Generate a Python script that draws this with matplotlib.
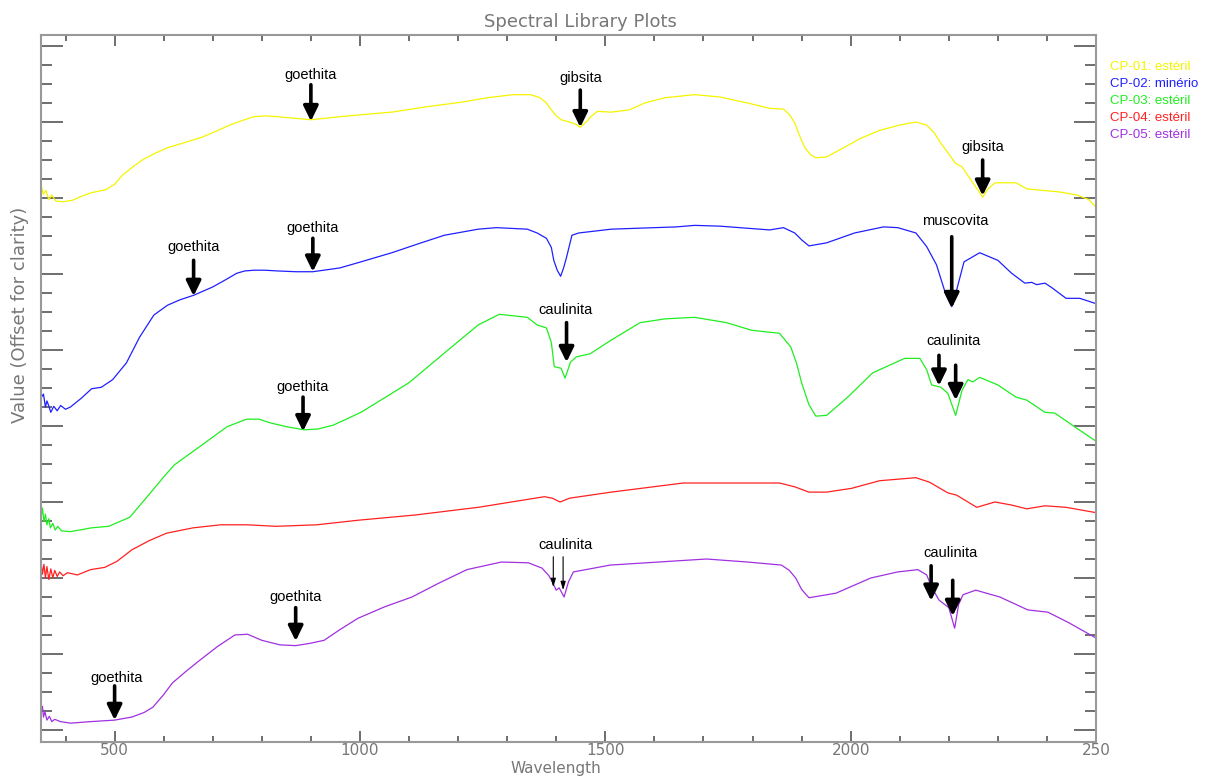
import matplotlib
matplotlib.use("Agg")
import matplotlib.pyplot as plt
from matplotlib.ticker import MultipleLocator

# spectra (wavelength in nm, value in offset units)
cp01_wl = [350, 355, 360, 366, 372, 380, 394, 414, 435, 453, 482, 500, 516, 537, 559, 583, 607, 643,
           678, 707, 735, 760, 784, 808, 833, 866, 900, 930, 959, 1010, 1065, 1135, 1206, 1260, 1312,
           1347, 1367, 1380, 1390, 1400, 1410, 1427, 1440, 1449, 1461, 1472, 1484, 1512, 1549, 1580,
           1622, 1682, 1733, 1790, 1835, 1863, 1875, 1886, 1896, 1906, 1918, 1929, 1951, 1985, 2022,
           2059, 2100, 2133, 2155, 2170, 2184, 2200, 2213, 2227, 2249, 2260, 2269, 2280, 2294, 2314,
           2337, 2359, 2425, 2461, 2485, 2500]
cp01_v = [7.17, 7.05, 7.10, 6.98, 7.04, 6.96, 6.95, 6.97, 7.03, 7.07, 7.11, 7.18, 7.30, 7.41, 7.51,
          7.59, 7.66, 7.73, 7.80, 7.88, 7.96, 8.02, 8.07, 8.08, 8.07, 8.05, 8.03, 8.05, 8.07, 8.10,
          8.13, 8.20, 8.26, 8.32, 8.36, 8.36, 8.32, 8.25, 8.16, 8.08, 8.03, 8.00, 7.97, 7.93, 8.00,
          8.08, 8.14, 8.13, 8.16, 8.25, 8.32, 8.36, 8.33, 8.25, 8.18, 8.17, 8.10, 7.99, 7.82, 7.67,
          7.57, 7.53, 7.54, 7.66, 7.79, 7.89, 7.96, 8.00, 7.96, 7.86, 7.72, 7.58, 7.46, 7.41, 7.20,
          7.10, 7.01, 7.12, 7.20, 7.20, 7.20, 7.12, 7.08, 7.04, 6.98, 6.88]

cp02_wl = [350, 351, 355, 359, 362, 365, 370, 376, 383, 390, 400, 410, 433, 453, 473, 496, 524, 551,
           580, 608, 633, 661, 700, 725, 749, 765, 784, 806, 833, 870, 904, 959, 1002, 1065, 1120,
           1172, 1241, 1278, 1341, 1361, 1380, 1390, 1395, 1402, 1409, 1415, 1421, 1432, 1446, 1512,
           1645, 1682, 1733, 1835, 1863, 1886, 1900, 1915, 1951, 2008, 2067, 2096, 2133, 2155, 2175,
           2193, 2206, 2216, 2231, 2263, 2300, 2328, 2355, 2369, 2379, 2396, 2410, 2439, 2467, 2500]
cp02_v = [4.61, 4.38, 4.42, 4.25, 4.33, 4.28, 4.18, 4.26, 4.20, 4.27, 4.22, 4.25, 4.37, 4.49, 4.51,
          4.61, 4.83, 5.17, 5.46, 5.59, 5.66, 5.72, 5.83, 5.92, 6.01, 6.04, 6.05, 6.05, 6.04, 6.03,
          6.03, 6.08, 6.16, 6.28, 6.40, 6.51, 6.59, 6.61, 6.59, 6.54, 6.47, 6.35, 6.18, 6.05, 5.97,
          6.08, 6.22, 6.51, 6.54, 6.59, 6.62, 6.64, 6.63, 6.58, 6.61, 6.54, 6.45, 6.37, 6.41, 6.54,
          6.62, 6.61, 6.54, 6.36, 6.12, 5.75, 5.57, 5.79, 6.16, 6.28, 6.18, 6.01, 5.88, 5.89, 5.86,
          5.88, 5.82, 5.68, 5.68, 5.61]

cp03_wl = [350, 353, 356, 359, 362, 366, 369, 374, 379, 384, 392, 410, 453, 488, 531, 573, 600, 622,
           650, 678, 729, 769, 794, 818, 851, 886, 914, 945, 969, 1002, 1050, 1100, 1172, 1241, 1284,
           1341, 1361, 1380, 1390, 1396, 1410, 1418, 1429, 1441, 1469, 1512, 1571, 1622, 1682, 1747,
           1798, 1855, 1878, 1890, 1900, 1915, 1929, 1951, 1994, 2045, 2110, 2141, 2155, 2165, 2184,
           2198, 2214, 2227, 2239, 2249, 2263, 2300, 2337, 2359, 2396, 2416, 2461, 2500]
cp03_v = [2.78, 2.92, 2.74, 2.84, 2.70, 2.78, 2.66, 2.72, 2.63, 2.68, 2.62, 2.61, 2.66, 2.68, 2.80,
          3.12, 3.33, 3.49, 3.62, 3.75, 3.99, 4.09, 4.09, 4.04, 3.99, 3.95, 3.96, 4.01, 4.08, 4.18,
          4.37, 4.57, 4.96, 5.33, 5.47, 5.43, 5.33, 5.29, 5.10, 4.78, 4.76, 4.63, 4.84, 4.91, 4.95,
          5.13, 5.36, 5.41, 5.43, 5.36, 5.26, 5.22, 5.04, 4.82, 4.57, 4.28, 4.13, 4.14, 4.38, 4.70,
          4.89, 4.89, 4.74, 4.54, 4.51, 4.43, 4.14, 4.47, 4.61, 4.58, 4.64, 4.54, 4.38, 4.34, 4.18,
          4.17, 3.97, 3.80]

cp04_wl = [350, 353, 356, 359, 362, 366, 370, 374, 378, 383, 388, 395, 404, 424, 451, 480, 505, 535,
           570, 606, 660, 716, 770, 829, 912, 996, 1114, 1241, 1376, 1392, 1408, 1427, 1512, 1659,
           1733, 1855, 1886, 1915, 1951, 2002, 2059, 2133, 2161, 2198, 2216, 2239, 2257, 2294, 2328,
           2359, 2396, 2439, 2500]
cp04_v = [2.21, 2.05, 2.18, 2.00, 2.15, 1.98, 2.12, 2.00, 2.10, 2.02, 2.08, 2.03, 2.07, 2.04, 2.11,
          2.14, 2.22, 2.37, 2.49, 2.59, 2.66, 2.70, 2.70, 2.68, 2.70, 2.76, 2.83, 2.93, 3.07, 3.05,
          3.00, 3.05, 3.13, 3.25, 3.25, 3.25, 3.20, 3.13, 3.13, 3.18, 3.28, 3.32, 3.26, 3.12, 3.09,
          3.00, 2.93, 3.00, 2.96, 2.91, 2.95, 2.93, 2.86]

cp05_wl = [350, 353, 355, 358, 362, 367, 372, 378, 390, 410, 451, 500, 535, 560, 578, 598, 618, 647,
           676, 710, 745, 771, 800, 837, 869, 898, 927, 959, 996, 1050, 1106, 1160, 1218, 1288, 1343,
           1371, 1385, 1392, 1400, 1406, 1416, 1425, 1435, 1510, 1608, 1706, 1790, 1859, 1875, 1888,
           1900, 1915, 1970, 2041, 2096, 2137, 2155, 2165, 2180, 2200, 2212, 2220, 2229, 2255, 2304,
           2361, 2402, 2445, 2500]
cp05_v = [0.29, 0.31, 0.17, 0.24, 0.13, 0.18, 0.11, 0.14, 0.11, 0.09, 0.11, 0.13, 0.17, 0.23, 0.30,
          0.45, 0.62, 0.78, 0.93, 1.10, 1.25, 1.26, 1.18, 1.12, 1.11, 1.14, 1.18, 1.32, 1.47, 1.62,
          1.75, 1.93, 2.11, 2.21, 2.20, 2.13, 2.03, 1.95, 1.84, 1.87, 1.75, 1.95, 2.08, 2.17, 2.21,
          2.25, 2.21, 2.17, 2.10, 2.00, 1.85, 1.74, 1.80, 2.00, 2.08, 2.11, 2.04, 1.88, 1.71, 1.61,
          1.34, 1.65, 1.78, 1.84, 1.75, 1.58, 1.55, 1.41, 1.21]

names = ["CP-01: estéril", "CP-02: minério", "CP-03: estéril", "CP-04: estéril", "CP-05: estéril"]
colors = ["#f4f400", "#2020ff", "#20ee20", "#ff2020", "#a030e0"]

# (label, text x, text y, [(arrow x, tail y, tip y), ...], thin)
notes = [
    ("goethita", 900, 8.62, [(900, 8.49, 8.01)], False),
    ("gibsita", 1449, 8.58, [(1449, 8.42, 7.93)], False),
    ("gibsita", 2269, 7.67, [(2269, 7.50, 7.03)], False),
    ("goethita", 904, 6.61, [(904, 6.47, 6.03)], False),
    ("goethita", 661, 6.36, [(661, 6.18, 5.71)], False),
    ("muscovita", 2214, 6.70, [(2206, 6.49, 5.55)], False),
    ("caulinita", 1418, 5.53, [(1421, 5.36, 4.84)], False),
    ("goethita", 884, 4.51, [(884, 4.38, 3.93)], False),
    ("caulinita", 2210, 5.12, [(2180, 4.93, 4.53), (2214, 4.80, 4.34)], False),
    ("caulinita", 1418, 2.43, [(1394, 2.28, 1.88), (1414, 2.28, 1.84)], True),
    ("goethita", 869, 1.75, [(869, 1.61, 1.17)], False),
    ("caulinita", 2204, 2.33, [(2164, 2.16, 1.70), (2208, 1.97, 1.50)], False),
    ("goethita", 504, 0.68, [(500, 0.58, 0.13)], False),
]

fig = plt.figure(figsize=(12.12, 7.76), dpi=100)
ax = fig.add_axes([41 / 1212, 34 / 776, 1055 / 1212, 707 / 776])

spectra = [(cp01_wl, cp01_v), (cp02_wl, cp02_v), (cp03_wl, cp03_v), (cp04_wl, cp04_v), (cp05_wl, cp05_v)]
for (wl, v), c in zip(spectra, colors):
    ax.plot(wl, v, color=c, lw=0.9)

for label, tx, ty, arrows, thin in notes:
    ax.text(tx, ty, label, ha="center", va="center", fontsize=10.5, family="Liberation Sans")
    for x, y0, y1 in arrows:
        if thin:
            style = "-|>,head_width=0.15,head_length=0.5"
            ax.annotate("", xy=(x, y1), xytext=(x, y0),
                        arrowprops=dict(arrowstyle=style, lw=0.8, color="black",
                                        shrinkA=0, shrinkB=0, mutation_scale=10))
        else:
            style = "-|>,head_width=0.22,head_length=0.45"
            ax.annotate("", xy=(x, y1), xytext=(x, y0),
                        arrowprops=dict(arrowstyle=style, lw=2.6, color="black",
                                        shrinkA=0, shrinkB=0, mutation_scale=20))

ax.set_xlim(350, 2500)
ax.set_ylim(-0.158, 9.145)
ax.set_xticks([500, 1000, 1500, 2000, 2500])
ax.set_xticklabels(["500", "1000", "1500", "2000", "250"])
ax.xaxis.set_minor_locator(MultipleLocator(100))
ax.set_yticks(range(0, 10))
ax.yaxis.set_minor_locator(MultipleLocator(0.25))
ax.set_yticklabels([])
ax.tick_params(axis="x", which="major", direction="in", length=8, width=1.2, colors="#555555",
               top=True, labelsize=11, labelcolor="#777777", pad=1)
ax.tick_params(axis="x", which="minor", direction="in", length=4, width=1.2, colors="#555555", top=True)
ax.tick_params(axis="y", which="major", direction="in", length=16, width=1.2, colors="#555555", right=True)
ax.tick_params(axis="y", which="minor", direction="in", length=8, width=1.2, colors="#555555", right=True)
for s in ax.spines.values():
    s.set_color("#999999")
    s.set_linewidth(1.5)

fig.text(580 / 1212, 1 - 22 / 776, "Spectral Library Plots", ha="center", va="center",
         fontsize=13, color="#777777")
fig.text(556 / 1212, 1 - 769 / 776, "Wavelength", ha="center", va="center",
         fontsize=11, color="#777777")
fig.text(20 / 1212, 1 - 315 / 776, "Value (Offset for clarity)", ha="center", va="center",
         rotation=90, fontsize=13, color="#777777")

for i, (n, c) in enumerate(zip(names, colors)):
    fig.text(1110 / 1212, 1 - (67 + 17 * i) / 776, n, color=c, fontsize=9.5,
             family="Liberation Sans", va="center", ha="left")

fig.savefig("out.png", dpi=100)
